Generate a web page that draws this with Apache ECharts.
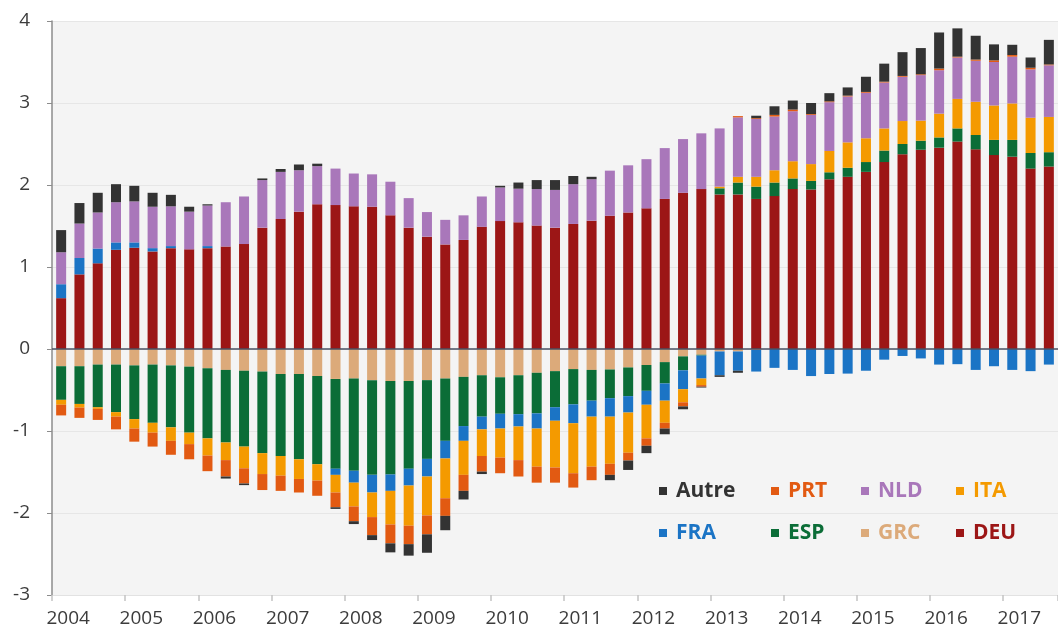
<!DOCTYPE html>
<html>
<head>
<meta charset="utf-8">
<script src="https://cdn.jsdelivr.net/npm/echarts@6/dist/echarts.min.js"></script>
<style>html,body{margin:0;padding:0;background:#fff;}#c{width:1058px;height:628px;}</style>
</head>
<body>
<div id="c"></div>
<script>
var categories = ["2004 T1","2004 T2","2004 T3","2004 T4","2005 T1","2005 T2","2005 T3","2005 T4","2006 T1","2006 T2","2006 T3","2006 T4","2007 T1","2007 T2","2007 T3","2007 T4","2008 T1","2008 T2","2008 T3","2008 T4","2009 T1","2009 T2","2009 T3","2009 T4","2010 T1","2010 T2","2010 T3","2010 T4","2011 T1","2011 T2","2011 T3","2011 T4","2012 T1","2012 T2","2012 T3","2012 T4","2013 T1","2013 T2","2013 T3","2013 T4","2014 T1","2014 T2","2014 T3","2014 T4","2015 T1","2015 T2","2015 T3","2015 T4","2016 T1","2016 T2","2016 T3","2016 T4","2017 T1","2017 T2","2017 T3"];
var yTicks = [-3,-2,-1,0,1,2,3,4];

var DEU = [0.62,0.91,1.045,1.21,1.235,1.19,1.23,1.215,1.23,1.25,1.28,1.48,1.585,1.675,1.765,1.755,1.74,1.735,1.63,1.48,1.37,1.275,1.33,1.49,1.56,1.545,1.505,1.48,1.525,1.565,1.625,1.665,1.715,1.83,1.905,1.95,1.885,1.885,1.83,1.865,1.95,1.945,2.07,2.10,2.16,2.28,2.375,2.43,2.455,2.53,2.435,2.365,2.345,2.20,2.225];
var GRC = [-0.21,-0.21,-0.19,-0.19,-0.20,-0.19,-0.20,-0.215,-0.235,-0.255,-0.265,-0.275,-0.305,-0.305,-0.33,-0.365,-0.36,-0.38,-0.39,-0.39,-0.38,-0.36,-0.34,-0.32,-0.345,-0.32,-0.29,-0.27,-0.245,-0.255,-0.25,-0.225,-0.195,-0.16,-0.09,-0.07,-0.03,-0.03,-0.01,0,0,0,0,0,0,0,0,0,0,0,0,0,0,0,0];
var ESP = [-0.41,-0.46,-0.52,-0.58,-0.655,-0.71,-0.755,-0.805,-0.855,-0.885,-0.925,-0.995,-1.0,-1.04,-1.075,-1.095,-1.125,-1.155,-1.14,-1.07,-0.96,-0.76,-0.60,-0.505,-0.445,-0.475,-0.495,-0.44,-0.43,-0.375,-0.35,-0.35,-0.315,-0.26,-0.17,-0.01,0.075,0.145,0.15,0.165,0.13,0.105,0.085,0.11,0.12,0.14,0.125,0.11,0.125,0.16,0.175,0.185,0.205,0.19,0.175];
var FRA = [0.17,0.20,0.18,0.09,0.065,0.04,0.025,0,0.025,0,0,0,0,0,0,-0.075,-0.145,-0.215,-0.20,-0.205,-0.215,-0.215,-0.18,-0.155,-0.18,-0.15,-0.185,-0.165,-0.23,-0.195,-0.225,-0.20,-0.17,-0.21,-0.23,-0.28,-0.29,-0.235,-0.265,-0.23,-0.255,-0.33,-0.305,-0.30,-0.265,-0.13,-0.085,-0.115,-0.19,-0.185,-0.255,-0.21,-0.255,-0.27,-0.19];
var ITA = [-0.06,-0.045,-0.02,-0.055,-0.115,-0.12,-0.165,-0.14,-0.21,-0.215,-0.265,-0.255,-0.24,-0.24,-0.20,-0.215,-0.29,-0.30,-0.41,-0.49,-0.475,-0.485,-0.415,-0.325,-0.355,-0.41,-0.465,-0.57,-0.61,-0.61,-0.575,-0.49,-0.41,-0.27,-0.16,-0.08,0.02,0.07,0.12,0.15,0.21,0.205,0.26,0.31,0.29,0.27,0.28,0.245,0.29,0.36,0.405,0.42,0.445,0.43,0.43];
var NLD = [0.39,0.42,0.44,0.49,0.50,0.505,0.485,0.46,0.495,0.54,0.58,0.58,0.575,0.505,0.465,0.445,0.40,0.395,0.41,0.36,0.30,0.30,0.30,0.37,0.41,0.41,0.445,0.46,0.485,0.505,0.55,0.575,0.60,0.62,0.655,0.68,0.71,0.725,0.705,0.655,0.61,0.60,0.595,0.56,0.555,0.56,0.54,0.555,0.53,0.505,0.50,0.53,0.57,0.59,0.63];
var PRT = [-0.13,-0.125,-0.135,-0.155,-0.16,-0.17,-0.17,-0.185,-0.19,-0.20,-0.185,-0.195,-0.185,-0.165,-0.185,-0.18,-0.18,-0.22,-0.23,-0.225,-0.23,-0.215,-0.195,-0.19,-0.19,-0.20,-0.195,-0.185,-0.175,-0.165,-0.135,-0.095,-0.09,-0.07,-0.05,-0.02,0,0.015,0.01,0.02,0.02,0.01,0.01,0.01,0.01,0.01,0.01,0.01,0.02,0.01,0.015,0.02,0.02,0.02,0.01];
var Autre = [0.27,0.25,0.24,0.22,0.19,0.17,0.14,0.06,0.015,-0.025,-0.02,0.02,0.035,0.07,0.03,-0.02,-0.035,-0.06,-0.11,-0.14,-0.225,-0.175,-0.105,-0.03,0.02,0.075,0.11,0.12,0.10,0.03,-0.065,-0.115,-0.09,-0.07,-0.035,-0.01,-0.02,-0.025,0.03,0.105,0.11,0.135,0.10,0.10,0.185,0.22,0.29,0.32,0.44,0.345,0.29,0.195,0.125,0.125,0.30];

var colors = {DEU:'#9c1616', GRC:'#dcaa7a', ESP:'#0b6d37', FRA:'#1b74c5', ITA:'#f49a00', NLD:'#a977ba', PRT:'#e25a12', Autre:'#333333'};
var stackOrder = [['DEU',DEU],['GRC',GRC],['ESP',ESP],['FRA',FRA],['ITA',ITA],['NLD',NLD],['PRT',PRT],['Autre',Autre]];

var series = stackOrder.map(function(p, k){
  var s = {
    name: p[0], type: 'bar', stack: 'total', data: p[1], barWidth: 10,
    itemStyle: {color: colors[p[0]]}
  };
  if (k === 0) {
    s.markLine = {silent: true, symbol: 'none', label: {show: false},
      lineStyle: {color: '#4a5063', width: 1.5, type: 'solid'},
      data: [{yAxis: 0}]};
  }
  return s;
});

function legendCol(left, names){
  return {
    orient: 'vertical', left: left, top: 474, itemGap: 18,
    itemWidth: 8, itemHeight: 8, icon: 'rect',
    textStyle: {fontFamily: 'Open Sans', fontSize: 21, fontWeight: 'bold', lineHeight: 24, padding: [0,0,0,4]},
    data: names.map(function(n){ return {name: n, textStyle: {color: colors[n]}}; }),
    selectedMode: false
  };
}

var chart = echarts.init(document.getElementById('c'), null, {renderer: 'canvas'});
chart.setOption({
  animation: false,
  backgroundColor: '#ffffff',
  grid: {left: 52, right: -10, top: 21, bottom: 33, show: true, backgroundColor: '#f4f4f4', borderWidth: 0},
  legend: [legendCol(654, ['Autre','FRA']), legendCol(766, ['PRT','ESP']), legendCol(856, ['NLD','GRC']), legendCol(951, ['ITA','DEU'])],
  xAxis: {
    type: 'category', data: categories,
    axisLine: {onZero: false, lineStyle: {color: '#e2e2e2', width: 1}},
    axisTick: {show: true, interval: 3, length: 6, lineStyle: {color: '#c4c4c4', width: 1.5}},
    axisLabel: {interval: 3, margin: 14, color: '#3c3c3c', fontFamily: 'Open Sans', fontSize: 19,
      padding: [0,0,0,14],
      formatter: function(v){ return v.slice(0,4); }},
    splitLine: {show: false}
  },
  yAxis: {
    type: 'value', min: yTicks[0], max: yTicks[yTicks.length-1], interval: 1,
    axisLine: {show: true, lineStyle: {color: '#8c8c8c', width: 1.5}},
    axisTick: {show: true, length: 5, lineStyle: {color: '#8c8c8c'}},
    axisLabel: {margin: 22, color: '#3c3c3c', fontFamily: 'Open Sans', fontSize: 19},
    splitLine: {show: true, lineStyle: {color: '#e6e6e6', width: 1}}
  },
  series: series
});
</script>
</body>
</html>
